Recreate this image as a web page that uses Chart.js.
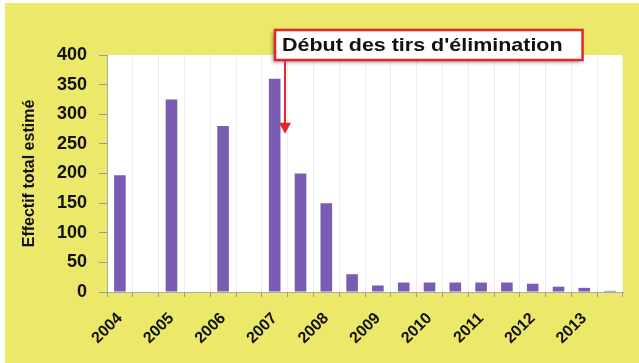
<!DOCTYPE html>
<html>
<head>
<meta charset="utf-8">
<script src="https://cdn.jsdelivr.net/npm/chart.js@4"></script>
<style>
  html, body { margin: 0; padding: 0; background: #ffffff; }
  #frame { position: absolute; left: 5px; top: 3px; width: 634px; height: 360px; background: #ebe86a; }
  canvas { display: block; }
</style>
</head>
<body>
<div id="frame"><canvas id="effectifChart" width="634" height="360"></canvas></div>
<script>
// une colonne par semestre, étiquette seulement sur l'année
const periodes = ["2004", "", "2005", "", "2006", "", "2007", "", "2008", "",
                  "2009", "", "2010", "", "2011", "", "2012", "", "2013", ""];
const effectifs = [197, null, 325, null, 280, null, 360, 200, 150, 30,
                   11, 16, 16, 16, 16, 16, 14, 9, 7, 2];
const graduations = [0, 50, 100, 150, 200, 250, 300, 350, 400];
const titreAxeY = "Effectif total estimé";
const annotation = "Début des tirs d'élimination";
const indexDebutTirs = 6;   // colonne après laquelle commencent les tirs
const valeurFleche = 267;   // hauteur de la pointe de la flèche

const police = "'Liberation Sans', Arial, sans-serif";

// encadré rouge + flèche
const annotationPlugin = {
  id: "annotationTirs",
  afterDraw(chart) {
    const ctx = chart.ctx;
    const x = chart.scales.x, y = chart.scales.y;
    const pas = x.getPixelForValue(1) - x.getPixelForValue(0);
    const flecheX = x.getPixelForValue(indexDebutTirs) + pas * 0.4;
    const boxTop = chart.chartArea.top - 25;
    const boxH = 30;
    const boxLeft = flecheX - 10;
    const etirement = 1.16;

    ctx.save();
    ctx.font = "bold 18.5px " + police;
    const largeur = ctx.measureText(annotation).width * etirement + 27;

    ctx.shadowColor = "rgba(0,0,0,0.45)";
    ctx.shadowBlur = 4;
    ctx.shadowOffsetX = -2;
    ctx.shadowOffsetY = 2;
    ctx.fillStyle = "#ffffff";
    ctx.fillRect(boxLeft, boxTop, largeur, boxH);
    ctx.shadowColor = "transparent";
    ctx.strokeStyle = "#e3262a";
    ctx.lineWidth = 2.5;
    ctx.strokeRect(boxLeft, boxTop, largeur, boxH);

    // texte légèrement élargi
    ctx.save();
    ctx.translate(boxLeft + 7, boxTop + boxH / 2 + 1);
    ctx.scale(etirement, 1);
    ctx.fillStyle = "#111111";
    ctx.textBaseline = "middle";
    ctx.fillText(annotation, 0, 0);
    ctx.restore();

    const basY = y.getPixelForValue(valeurFleche);
    ctx.strokeStyle = "#e3262a";
    ctx.lineWidth = 2;
    ctx.beginPath();
    ctx.moveTo(flecheX, boxTop + boxH + 1);
    ctx.lineTo(flecheX, basY - 9);
    ctx.stroke();
    ctx.fillStyle = "#e3262a";
    ctx.beginPath();
    ctx.moveTo(flecheX - 6, basY - 11);
    ctx.lineTo(flecheX + 6, basY - 11);
    ctx.lineTo(flecheX, basY);
    ctx.closePath();
    ctx.fill();
    ctx.restore();
  }
};

// zone de tracé en blanc
const fondPlugin = {
  id: "fondBlanc",
  beforeDraw(chart) {
    const a = chart.chartArea;
    chart.ctx.save();
    chart.ctx.fillStyle = "#ffffff";
    chart.ctx.fillRect(a.left, a.top, a.right - a.left, a.bottom - a.top);
    chart.ctx.restore();
  }
};

new Chart(document.getElementById("effectifChart"), {
  type: "bar",
  data: {
    labels: periodes,
    datasets: [{
      data: effectifs,
      backgroundColor: "#7a5db3",
      barPercentage: 0.45,
      categoryPercentage: 1
    }]
  },
  options: {
    responsive: false,
    animation: false,
    layout: { padding: { left: 11, top: 52, right: 16, bottom: 0 } },
    plugins: { legend: { display: false }, tooltip: { enabled: false } },
    scales: {
      x: {
        afterFit(scale) { scale.height = 71; },
        grid: { offset: true, color: "#eeeef2", tickColor: "#9a9a9a", tickLength: 5 },
        border: { color: "#a8a8a8" },
        ticks: {
          autoSkip: false,
          maxRotation: 45,
          minRotation: 45,
          padding: 12,
          color: "#111111",
          font: { family: police, weight: "bold", size: 16 }
        }
      },
      y: {
        min: 0,
        max: 400,
        afterFit(scale) { scale.width = 91; },
        afterBuildTicks(scale) { scale.ticks = graduations.map(v => ({ value: v })); },
        grid: { drawOnChartArea: false, tickColor: "#9a9a9a", tickLength: 8 },
        border: { color: "#a8a8a8" },
        ticks: {
          padding: 12,
          color: "#111111",
          font: { family: police, weight: "bold", size: 18 }
        },
        title: {
          display: true,
          text: titreAxeY,
          color: "#111111",
          padding: { top: 4, bottom: 0 },
          font: { family: police, weight: "bold", size: 16 }
        }
      }
    }
  },
  plugins: [fondPlugin, annotationPlugin]
});
</script>
</body>
</html>
